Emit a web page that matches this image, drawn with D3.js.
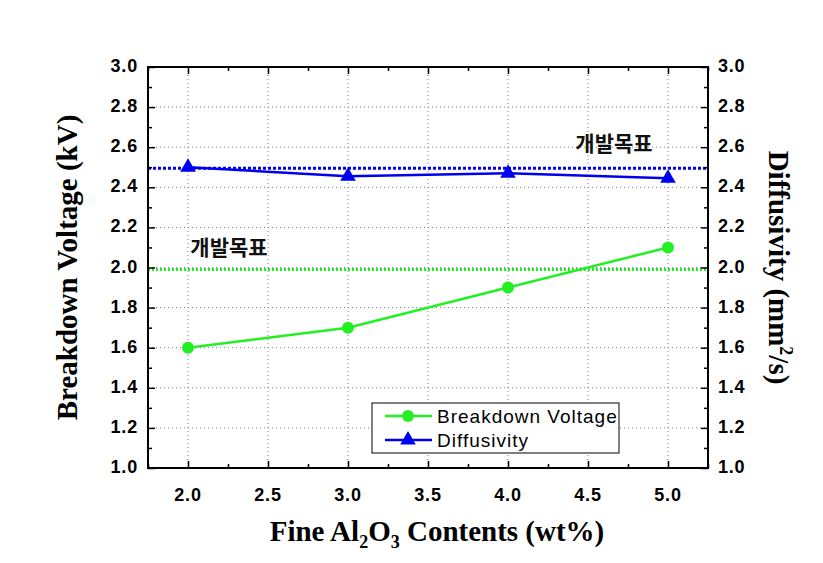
<!DOCTYPE html>
<html><head><meta charset="utf-8">
<script src="https://cdn.jsdelivr.net/npm/d3@7"></script>
<style>body{margin:0;background:#fff}svg{display:block}</style>
</head><body>
<svg id="c" width="823" height="563"></svg>
<script>
const contents = [2.0, 3.0, 4.0, 5.0];
const breakdownVoltage = [1.6, 1.7, 1.9, 2.1];
const diffusivity = [2.5, 2.455, 2.47, 2.445];
const voltageTarget = 1.99;
const diffusivityTarget = 2.495;
const xTicks = [2.0, 2.5, 3.0, 3.5, 4.0, 4.5, 5.0];
const yTicks = [1.0, 1.2, 1.4, 1.6, 1.8, 2.0, 2.2, 2.4, 2.6, 2.8, 3.0];
const seriesNames = ["Breakdown Voltage", "Diffusivity"];
const targetLabel = "개발목표";

const svg = d3.select("#c");
const L = 148, R = 708, T = 67, B = 468;
const x = d3.scaleLinear().domain([1.75, 5.25]).range([L, R]);
const yL = d3.scaleLinear().domain([1.0, 3.0]).range([B, T]);
const yR = d3.scaleLinear().domain([1.0, 3.0]).range([B, T]);
const green = "#22f022", blue = "#0000f0";

// grid
const g = svg.append("g");
g.selectAll(".vg").data(xTicks).join("line")
  .attr("x1", d => x(d)).attr("x2", d => x(d)).attr("y1", T).attr("y2", B)
  .attr("stroke", "#7a7a9a").attr("stroke-width", 1).attr("stroke-dasharray", "1,3");
g.selectAll(".hg").data(yTicks.slice(1, -1)).join("line")
  .attr("y1", d => yL(d)).attr("y2", d => yL(d)).attr("x1", L).attr("x2", R)
  .attr("stroke", "#7a7a9a").attr("stroke-width", 1).attr("stroke-dasharray", "1,3");

// target lines
svg.append("line").attr("x1", L).attr("x2", R)
  .attr("y1", yL(voltageTarget)).attr("y2", yL(voltageTarget))
  .attr("stroke", green).attr("stroke-width", 3).attr("stroke-dasharray", "2,2");
svg.append("line").attr("x1", L).attr("x2", R)
  .attr("y1", yR(diffusivityTarget)).attr("y2", yR(diffusivityTarget))
  .attr("stroke", blue).attr("stroke-width", 3).attr("stroke-dasharray", "3,2");

// axes (inward ticks, major + minor)
const minorX = d3.range(1.75, 5.26, 0.25);
const minorY = d3.range(1.0, 3.01, 0.1);
const isMajX = d => Math.abs(d * 2 - Math.round(d * 2)) < 1e-6;
const isMajY = d => Math.abs(d * 5 - Math.round(d * 5)) < 1e-6;
function axis(sel, gen) { sel.call(gen); sel.select(".domain").remove(); sel.selectAll("text").remove(); sel.selectAll("line").attr("stroke","#000").attr("stroke-width",1.5); }
svg.append("g").attr("transform", `translate(0,${B})`).call(s => axis(s, d3.axisTop(x).tickValues(minorX)))
  .selectAll(".tick line").attr("y2", d => isMajX(d) ? -7 : -4);
svg.append("g").attr("transform", `translate(0,${T})`).call(s => axis(s, d3.axisBottom(x).tickValues(minorX)))
  .selectAll(".tick line").attr("y2", d => isMajX(d) ? 7 : 4);
svg.append("g").attr("transform", `translate(${L},0)`).call(s => axis(s, d3.axisRight(yL).tickValues(minorY)))
  .selectAll(".tick line").attr("x2", d => isMajY(d) ? 7 : 4);
svg.append("g").attr("transform", `translate(${R},0)`).call(s => axis(s, d3.axisLeft(yR).tickValues(minorY)))
  .selectAll(".tick line").attr("x2", d => isMajY(d) ? -7 : -4);

svg.append("rect").attr("x", L).attr("y", T).attr("width", R - L).attr("height", B - T)
  .attr("fill", "none").attr("stroke", "#000").attr("stroke-width", 2);

// tick labels
const tf = "Liberation Sans, Arial, sans-serif";
svg.selectAll(".xl").data(xTicks).join("text").attr("x", d => x(d)).attr("y", 501)
  .attr("text-anchor", "middle").attr("font-family", tf).attr("font-weight", "bold").attr("font-size", 18)
  .attr("letter-spacing", 0.8).text(d => d.toFixed(1));
svg.selectAll(".yl").data(yTicks).join("text").attr("x", 138).attr("y", d => yL(d) + 5)
  .attr("text-anchor", "end").attr("font-family", tf).attr("font-weight", "bold").attr("font-size", 18)
  .attr("letter-spacing", 0.8).text(d => d.toFixed(1));
svg.selectAll(".yr").data(yTicks).join("text").attr("x", 718).attr("y", d => yR(d) + 5)
  .attr("text-anchor", "start").attr("font-family", tf).attr("font-weight", "bold").attr("font-size", 18)
  .attr("letter-spacing", 0.8).text(d => d.toFixed(1));

// axis titles
const sf = "Liberation Serif, Times New Roman, serif";
svg.append("text").attr("transform", `translate(77,${(T + B) / 2}) rotate(-90)`)
  .attr("text-anchor", "middle").attr("font-family", sf).attr("font-weight", "bold").attr("font-size", 29)
  .text("Breakdown Voltage (kV)");
const rt = svg.append("text").attr("transform", `translate(769,${(T + B) / 2}) rotate(90)`)
  .attr("text-anchor", "middle").attr("font-family", sf).attr("font-weight", "bold").attr("font-size", 29);
rt.append("tspan").text("Diffusivity (mm");
rt.append("tspan").attr("font-size", 18).attr("dy", -11).text("2");
rt.append("tspan").attr("dy", 11).text("/s)");
const xt = svg.append("text").attr("x", 437).attr("y", 541)
  .attr("text-anchor", "middle").attr("font-family", sf).attr("font-weight", "bold").attr("font-size", 29);
xt.append("tspan").text("Fine Al");
xt.append("tspan").attr("font-size", 18).attr("dy", 7).text("2");
xt.append("tspan").attr("dy", -7).text("O");
xt.append("tspan").attr("font-size", 18).attr("dy", 7).text("3");
xt.append("tspan").attr("dy", -7).text(" Contents (wt%)");

// series
const lineV = d3.line().x((d, i) => x(contents[i])).y(d => yL(d));
const lineD = d3.line().x((d, i) => x(contents[i])).y(d => yR(d));
svg.append("path").attr("d", lineV(breakdownVoltage)).attr("fill", "none").attr("stroke", green).attr("stroke-width", 2.5);
svg.append("path").attr("d", lineD(diffusivity)).attr("fill", "none").attr("stroke", blue).attr("stroke-width", 2.5);
svg.selectAll(".cv").data(breakdownVoltage).join("circle").attr("cx", (d, i) => x(contents[i])).attr("cy", d => yL(d))
  .attr("r", 6).attr("fill", green);
const tri = d3.symbol().type(d3.symbolTriangle).size(105);
svg.selectAll(".td").data(diffusivity).join("path").attr("d", tri)
  .attr("transform", (d, i) => `translate(${x(contents[i])},${yR(d)})`).attr("fill", blue);

// target labels
const kf = "Noto Sans CJK KR, sans-serif";
svg.append("text").attr("x", 614).attr("y", 151).attr("text-anchor", "middle").attr("font-family", kf)
  .attr("font-weight", "bold").attr("font-size", 21).attr("fill", "#111").text(targetLabel);
svg.append("text").attr("x", 229).attr("y", 255).attr("text-anchor", "middle").attr("font-family", kf)
  .attr("font-weight", "bold").attr("font-size", 21).attr("fill", "#111").text(targetLabel);

// legend
const lg = svg.append("g").attr("transform", "translate(372,403)");
lg.append("rect").attr("width", 247).attr("height", 50).attr("fill", "#fff").attr("stroke", "#000").attr("stroke-width", 1);
const leg = [{c: green, m: "circle", y: 13}, {c: blue, m: "tri", y: 37}];
leg.forEach((e, i) => {
  lg.append("line").attr("x1", 13).attr("x2", 60).attr("y1", e.y).attr("y2", e.y).attr("stroke", e.c).attr("stroke-width", 2.5);
  if (e.m === "circle") lg.append("circle").attr("cx", 36).attr("cy", e.y).attr("r", 6).attr("fill", e.c);
  else lg.append("path").attr("d", tri).attr("transform", `translate(36,${e.y})`).attr("fill", e.c);
  lg.append("text").attr("x", 65).attr("y", e.y + 7).attr("font-family", tf).attr("font-size", 19)
    .attr("letter-spacing", 1).attr("fill", "#000").text(seriesNames[i]);
});
</script>
</body></html>
